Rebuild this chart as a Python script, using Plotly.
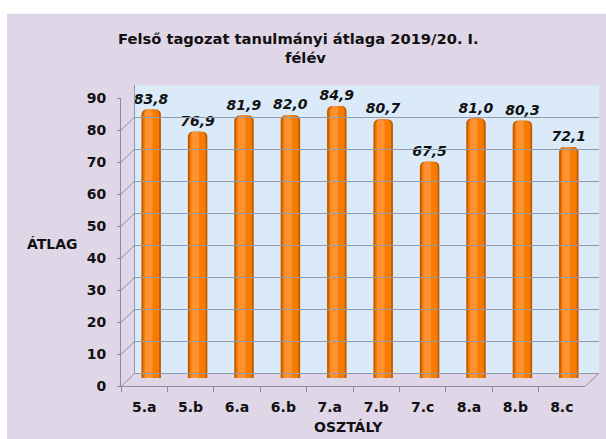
import plotly.graph_objects as go

# ---- data ----
classes = ["5.a", "5.b", "6.a", "6.b", "7.a", "7.b", "7.c", "8.a", "8.b", "8.c"]
averages = [83.8, 76.9, 81.9, 82.0, 84.9, 80.7, 67.5, 81.0, 80.3, 72.1]
y_ticks = list(range(0, 100, 10))
title_line1 = "Felső tagozat tanulmányi átlaga 2019/20. I."
title_line2 = "félév"
x_title = "OSZTÁLY"
y_title = "ÁTLAG"

# ---- layout helpers (target pixels -> paper) ----
W, H = 606, 449
SY, OY = 0.965, 6.5
def px(x):
    return x / W
def Y(y):
    return y / SY - OY
def py(y):
    return 1 - Y(y) / H

FONT = "DejaVu Sans"
LAV = "rgb(223,215,232)"
WALL = "rgb(219,234,248)"
GRID = "rgb(145,155,172)"
LINE = "rgb(140,140,150)"

FX0, FX1, FY0, FY1 = 121, 585, 385, 96.5   # front plane
DX, DY = 14, 13                            # depth offset
BAR_LIFT = 2                               # cylinder caps sit slightly higher

fig = go.Figure()

# front plane (axes / labels)
fig.add_trace(go.Scatter(x=classes, y=averages, xaxis="x", yaxis="y", mode="markers",
                         marker=dict(opacity=0), hoverinfo="skip", showlegend=False))
# back wall
fig.add_trace(go.Scatter(x=classes, y=averages, xaxis="x3", yaxis="y3", mode="markers",
                         marker=dict(opacity=0), hoverinfo="skip", showlegend=False))
# cylinder bars (mid depth)
fig.add_trace(go.Bar(x=classes, y=averages, xaxis="x2", yaxis="y2", width=0.42,
                     marker=dict(color="#C25A00", line=dict(width=0), cornerradius=5),
                     texttemplate="%{y:.1f}", textposition="outside", constraintext="none",
                     cliponaxis=False,
                     textfont=dict(family=FONT, size=14, color="#111111", weight="bold", style="italic"),
                     hoverinfo="skip", showlegend=False))
fig.add_trace(go.Bar(x=classes, y=averages, xaxis="x2", yaxis="y2", width=0.34,
                     marker=dict(color="#F57C00", line=dict(width=0), cornerradius=5),
                     hoverinfo="skip", showlegend=False))
fig.add_trace(go.Bar(x=classes, y=averages, xaxis="x2", yaxis="y2", width=0.16, offset=-0.13,
                     marker=dict(color="#FF9230", line=dict(width=0), cornerradius=3),
                     hoverinfo="skip", showlegend=False))

tickfont = dict(family=FONT, size=14, color="#111111", weight="bold")

shapes = [
    dict(type="rect", xref="paper", yref="paper", x0=px(7), x1=1, y0=0, y1=py(12),
         fillcolor=LAV, line=dict(width=0), layer="below"),
    dict(type="rect", xref="x3 domain", yref="y3 domain", x0=0, x1=1, y0=0, y1=1,
         fillcolor=WALL, line=dict(width=0), layer="below"),
]
DYP = DY / SY
for v in y_ticks:
    shapes.append(dict(type="line", xref="x domain", yref="y",
                       xsizemode="pixel", xanchor=0, x0=0, x1=DX,
                       ysizemode="pixel", yanchor=v, y0=0, y1=DYP,
                       line=dict(color=LINE, width=1)))
shapes.append(dict(type="line", xref="x domain", yref="y",
                   xsizemode="pixel", xanchor=1, x0=0, x1=DX,
                   ysizemode="pixel", yanchor=0, y0=0, y1=DYP,
                   line=dict(color=LINE, width=1)))

def ann(text, x, y, size=14):
    return dict(text="<b>" + text + "</b>", xref="paper", yref="paper",
                x=px(x), y=py(y), xanchor="center", yanchor="middle", showarrow=False,
                font=dict(family=FONT, size=size, color="#111111"))

fig.update_layout(
    width=W, height=H,
    margin=dict(l=0, r=0, t=0, b=0),
    paper_bgcolor="white",
    plot_bgcolor="rgba(0,0,0,0)",
    barmode="overlay",
    separators=", ",
    hovermode=False,
    showlegend=False,
    font=dict(family=FONT, color="#111111"),
    xaxis=dict(domain=[px(FX0), px(FX1)], anchor="y", type="category",
               categoryorder="array", categoryarray=classes, range=[-0.5, 9.5],
               showline=True, linecolor=LINE, linewidth=1,
               ticks="outside", tickson="boundaries", ticklen=5, tickcolor=LINE,
               tickfont=tickfont, showgrid=False, zeroline=False, ticklabelstandoff=8),
    yaxis=dict(domain=[py(FY0), py(FY1)], anchor="x", range=[0, 90], tickvals=y_ticks,
               showline=True, linecolor=LINE, linewidth=1,
               ticks="outside", ticklen=3, tickcolor=LINE,
               tickfont=tickfont, showgrid=False, zeroline=False, ticklabelstandoff=8),
    xaxis2=dict(domain=[px(FX0 + DX / 2), px(FX1 + DX / 2)], anchor="y2", type="category",
                categoryorder="array", categoryarray=classes, range=[-0.5, 9.5], visible=False),
    yaxis2=dict(domain=[py(FY0 - DY / 2 - BAR_LIFT), py(FY1 - DY / 2 - BAR_LIFT)], anchor="x2",
                range=[0, 90], visible=False),
    xaxis3=dict(domain=[px(FX0 + DX), px(FX1 + DX)], anchor="y3", type="category",
                categoryorder="array", categoryarray=classes, range=[-0.5, 9.5], visible=False),
    yaxis3=dict(domain=[py(FY0 - DY), py(FY1 - DY)], anchor="x3", range=[0, 90], dtick=10,
                showgrid=True, gridcolor=GRID, gridwidth=1,
                zeroline=True, zerolinecolor=GRID, zerolinewidth=1,
                showline=True, linecolor=GRID, linewidth=1,
                showticklabels=False, ticks=""),
    shapes=shapes,
    annotations=[
        ann(title_line1, 298, 37, 14.7),
        ann(title_line2, 305, 56, 14.7),
        ann(y_title, 52, 242),
        ann(x_title, 348, 426),
    ],
)

fig.write_html("out.html", config={"displayModeBar": False},
               post_script="document.body.style.margin='0';document.body.style.overflow='hidden';")
